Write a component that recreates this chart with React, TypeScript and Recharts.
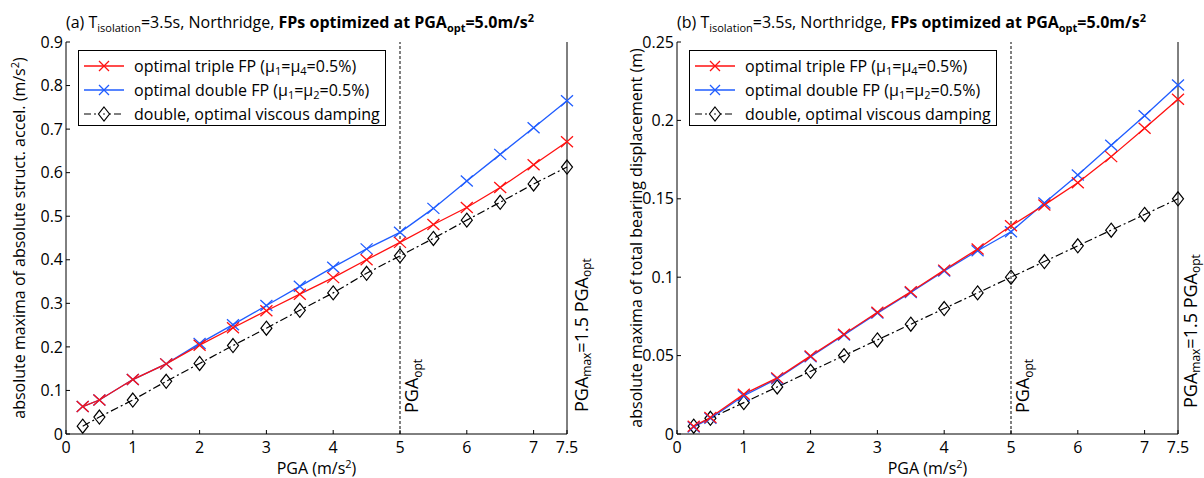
import React from "react";
import { LineChart, Line, XAxis, YAxis, ReferenceLine } from "recharts";

// PGA levels (m/s²)
const pga = [0.25, 0.5, 1, 1.5, 2, 2.5, 3, 3.5, 4, 4.5, 5, 5.5, 6, 6.5, 7, 7.5];

// (a) absolute maxima of absolute structural acceleration (m/s²)
const accTriple = [0.063, 0.078, 0.125, 0.161, 0.204, 0.244, 0.283, 0.321, 0.359, 0.4, 0.44, 0.481, 0.52, 0.566, 0.618, 0.671];
const accDouble = [0.063, 0.078, 0.125, 0.161, 0.208, 0.251, 0.295, 0.339, 0.383, 0.425, 0.463, 0.518, 0.581, 0.642, 0.703, 0.765];
const accViscous = [0.018, 0.039, 0.078, 0.121, 0.162, 0.203, 0.243, 0.284, 0.324, 0.369, 0.409, 0.449, 0.491, 0.532, 0.574, 0.613];

// (b) absolute maxima of total bearing displacement (m)
const dispTriple = [0.005, 0.0105, 0.0254, 0.0358, 0.0498, 0.0636, 0.0776, 0.0907, 0.1045, 0.118, 0.1328, 0.1461, 0.1602, 0.1769, 0.195, 0.2135];
const dispDouble = [0.0045, 0.01, 0.0244, 0.0353, 0.0493, 0.0632, 0.0771, 0.0903, 0.104, 0.1169, 0.129, 0.1473, 0.1652, 0.1841, 0.203, 0.2226];
const dispViscous = [0.005, 0.01, 0.02, 0.03, 0.04, 0.05, 0.06, 0.07, 0.08, 0.09, 0.1, 0.11, 0.12, 0.13, 0.14, 0.15];

const xTicks = [0, 1, 2, 3, 4, 5, 6, 7, 7.5];
const accTicks = [0, 0.1, 0.2, 0.3, 0.4, 0.5, 0.6, 0.7, 0.8, 0.9];
const dispTicks = [0, 0.05, 0.1, 0.15, 0.2, 0.25];

const FONT = "'Open Sans', sans-serif";
const RED = "#ff1010";
const BLUE = "#1f5cff";

const fmt = (v: number) => (v === 0 ? "0" : String(+v.toFixed(2)));

const crossDot = (color: string) => (props: any) => {
  const { cx, cy, index } = props;
  if (cx == null || cy == null) return <g key={index} />;
  return (
    <path
      key={index}
      d={`M${cx - 6},${cy - 5.5}L${cx + 6},${cy + 5.5}M${cx - 6},${cy + 5.5}L${cx + 6},${cy - 5.5}`}
      stroke={color}
      strokeWidth={1.3}
      fill="none"
    />
  );
};

const diamondDot = (props: any) => {
  const { cx, cy, index } = props;
  if (cx == null || cy == null) return <g key={index} />;
  return (
    <path
      key={index}
      d={`M${cx},${cy - 7}L${cx + 5.5},${cy}L${cx},${cy + 7}L${cx - 5.5},${cy}Z`}
      stroke="#000"
      strokeWidth={1.2}
      fill="none"
    />
  );
};

const YLabel = ({ viewBox, offsetX, children }: any) => {
  const x = viewBox.x + offsetX;
  const y = viewBox.y + viewBox.height / 2;
  return (
    <text transform={`translate(${x},${y}) rotate(-90)`} textAnchor="middle" fontSize={16} fontFamily={FONT} fill="#000">
      {children}
    </text>
  );
};

const XLabel = ({ viewBox }: any) => (
  <text x={viewBox.x + viewBox.width / 2} y={viewBox.y + 40} textAnchor="middle" fontSize={16} fontFamily={FONT} fill="#000">
    PGA (m/s<tspan fontSize={11} dy={-6}>2</tspan>
    <tspan dy={6}>)</tspan>
  </text>
);

const OptLabel = ({ viewBox }: any) => (
  <text
    transform={`translate(${viewBox.x + 18},${viewBox.y + viewBox.height - 21}) rotate(-90)`}
    fontSize={18}
    fontFamily={FONT}
    fill="#000"
  >
    PGA<tspan fontSize={12} dy={4}>opt</tspan>
  </text>
);

const MaxLabel = ({ viewBox, dx, up }: any) => (
  <text
    transform={`translate(${viewBox.x + dx},${viewBox.y + viewBox.height - up}) rotate(-90)`}
    fontSize={18}
    fontFamily={FONT}
    fill="#000"
  >
    PGA<tspan fontSize={12} dy={3}>max</tspan>
    <tspan dy={-3}>=1.5 PGA</tspan>
    <tspan fontSize={12} dy={3}>opt</tspan>
  </text>
);

type Row = { pga: number; triple: number; dbl: number; visc: number };

const buildRows = (a: number[], b: number[], c: number[]): Row[] =>
  pga.map((p, i) => ({ pga: p, triple: a[i], dbl: b[i], visc: c[i] }));

const LegendSample = ({ kind }: { kind: "red" | "blue" | "black" }) => (
  <svg width={42} height={20} style={{ display: "block" }}>
    {kind === "black" ? (
      <>
        <line x1={1} y1={10} x2={41} y2={10} stroke="#000" strokeWidth={1.2} strokeDasharray="7 3 2 3" />
        <path d="M21,3L26.5,10L21,17L15.5,10Z" stroke="#000" strokeWidth={1.2} fill="#fff" />
        <circle cx={21} cy={10} r={0.8} fill="#000" />
      </>
    ) : (
      <>
        <line x1={1} y1={10} x2={41} y2={10} stroke={kind === "red" ? RED : BLUE} strokeWidth={1.3} />
        <path d="M16,5L26,15M16,15L26,5" stroke={kind === "red" ? RED : BLUE} strokeWidth={1.3} />
      </>
    )}
  </svg>
);

const LegendBox = ({ left, top, width }: { left: number; top: number; width: number }) => {
  const sub = (t: string) => <sub style={{ fontSize: 11, verticalAlign: "-3px", lineHeight: 0 }}>{t}</sub>;
  const rows: { kind: "red" | "blue" | "black"; text: React.ReactNode }[] = [
    { kind: "red", text: <>optimal triple FP (μ{sub("1")}=μ{sub("4")}=0.5%)</> },
    { kind: "blue", text: <>optimal double FP (μ{sub("1")}=μ{sub("2")}=0.5%)</> },
    { kind: "black", text: <>double, optimal viscous damping</> },
  ];
  return (
    <div
      style={{
        position: "absolute",
        left,
        top,
        width,
        height: 76,
        boxSizing: "border-box",
        border: "1px solid #000",
        background: "#fff",
        paddingTop: 3,
        fontFamily: FONT,
        fontSize: 16,
        color: "#000",
      }}
    >
      {rows.map((r) => (
        <div key={r.kind} style={{ display: "flex", alignItems: "center", height: 24, paddingLeft: 4 }}>
          <LegendSample kind={r.kind} />
          <span style={{ marginLeft: 9, whiteSpace: "nowrap", lineHeight: "24px" }}>{r.text}</span>
        </div>
      ))}
    </div>
  );
};

type PanelProps = {
  left: number;
  width: number;
  axisWidth: number;
  rightMargin: number;
  letter: string;
  rows: Row[];
  yMax: number;
  yTicks: number[];
  yLabel: React.ReactNode;
  yLabelX: number;
  maxDx: number;
  maxUp: number;
};

const Panel = ({ left, width, axisWidth, rightMargin, letter, rows, yMax, yTicks, yLabel, yLabelX, maxDx, maxUp }: PanelProps) => {
  const tickStyle = { fontSize: 16, fontFamily: FONT, fill: "#000" };
  const sup = (t: string) => <sup style={{ fontSize: 11, verticalAlign: "6px", lineHeight: 0 }}>{t}</sup>;
  const sub = (t: string) => <sub style={{ fontSize: 11, verticalAlign: "-4px", lineHeight: 0 }}>{t}</sub>;
  return (
    <div style={{ position: "absolute", left, top: 0, width, height: 478 }}>
      <div
        style={{
          position: "absolute",
          left: axisWidth,
          top: 12,
          fontFamily: FONT,
          fontSize: 16,
          whiteSpace: "nowrap",
          lineHeight: "20px",
          color: "#000",
        }}
      >
        ({letter}) T{sub("isolation")}=3.5s, Northridge, <b>FPs optimized at PGA{sub("opt")}=5.0m/s{sup("2")}</b>
      </div>
      <LineChart width={width} height={478} data={rows} margin={{ top: 42, right: rightMargin, bottom: 0, left: 0 }}>
        <XAxis
          dataKey="pga"
          type="number"
          domain={[0, 7.5]}
          ticks={xTicks}
          tickFormatter={(v: number) => String(v)}
          height={44}
          tick={tickStyle}
          tickSize={-4}
          tickMargin={12}
          stroke="#000"
          interval={0}
          label={<XLabel />}
        />
        <XAxis
          xAxisId="top"
          orientation="top"
          dataKey="pga"
          type="number"
          domain={[0, 7.5]}
          ticks={xTicks}
          tickFormatter={() => ""}
          height={0}
          tickSize={-4}
          stroke="#000"
          interval={0}
        />
        <YAxis
          type="number"
          domain={[0, yMax]}
          ticks={yTicks}
          tickFormatter={fmt}
          width={axisWidth}
          tick={tickStyle}
          tickSize={-4}
          tickMargin={7}
          stroke="#000"
          interval={0}
          label={<YLabel offsetX={yLabelX}>{yLabel}</YLabel>}
        />
        <YAxis
          yAxisId="right"
          orientation="right"
          type="number"
          domain={[0, yMax]}
          ticks={yTicks}
          tickFormatter={() => ""}
          width={0}
          tickSize={-4}
          stroke="#000"
          interval={0}
        />
        <ReferenceLine x={5} stroke="#000" strokeWidth={1} strokeDasharray="3 2" label={<OptLabel />} />
        <ReferenceLine x={7.5} stroke="#000" strokeWidth={1} label={<MaxLabel dx={maxDx} up={maxUp} />} />
        <Line
          dataKey="visc"
          stroke="#000"
          strokeWidth={1.2}
          strokeDasharray="8 3 2 3"
          dot={diamondDot}
          isAnimationActive={false}
        />
        <Line dataKey="dbl" stroke={BLUE} strokeWidth={1.3} dot={crossDot(BLUE)} isAnimationActive={false} />
        <Line dataKey="triple" stroke={RED} strokeWidth={1.3} dot={crossDot(RED)} isAnimationActive={false} />
      </LineChart>
      <LegendBox left={axisWidth + 12} top={50} width={308} />
    </div>
  );
};

export default function App() {
  const accRows = buildRows(accTriple, accDouble, accViscous);
  const dispRows = buildRows(dispTriple, dispDouble, dispViscous);
  return (
    <div style={{ position: "fixed", left: 0, top: 0, width: 1204, height: 478, background: "#fff", overflow: "hidden" }}>
      <Panel
        left={0}
        width={600}
        axisWidth={66}
        rightMargin={33}
        letter="a"
        rows={accRows}
        yMax={0.9}
        yTicks={accTicks}
        yLabel={
          <>
            absolute maxima of absolute struct. accel. (m/s<tspan fontSize={11} dy={-6}>2</tspan>
            <tspan dy={6}>)</tspan>
          </>
        }
        yLabelX={25}
        maxDx={21}
        maxUp={22}
      />
      <Panel
        left={600}
        width={604}
        axisWidth={77}
        rightMargin={26}
        letter="b"
        rows={dispRows}
        yMax={0.25}
        yTicks={dispTicks}
        yLabel={<>absolute maxima of total bearing displacement (m)</>}
        yLabelX={42}
        maxDx={19}
        maxUp={26}
      />
    </div>
  );
}
